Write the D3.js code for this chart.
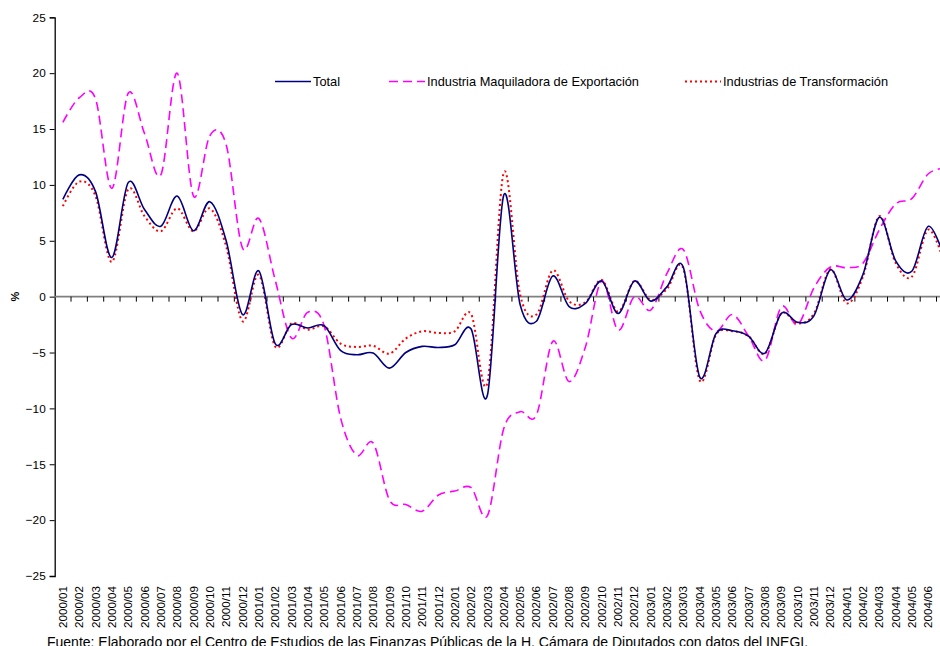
<!DOCTYPE html>
<html>
<head>
<meta charset="utf-8">
<script src="https://cdn.jsdelivr.net/npm/d3@7"></script>
<style>
  body { margin: 0; background: #fff; }
  svg text { font-family: "Liberation Sans", Arial, sans-serif; fill: #000; }
</style>
</head>
<body>
<svg width="940" height="646"></svg>
<script>
// **** Data ****

var months = ["2000/01","2000/02","2000/03","2000/04","2000/05","2000/06","2000/07","2000/08","2000/09","2000/10","2000/11","2000/12",
    "2001/01","2001/02","2001/03","2001/04","2001/05","2001/06","2001/07","2001/08","2001/09","2001/10","2001/11","2001/12",
    "2002/01","2002/02","2002/03","2002/04","2002/05","2002/06","2002/07","2002/08","2002/09","2002/10","2002/11","2002/12",
    "2003/01","2003/02","2003/03","2003/04","2003/05","2003/06","2003/07","2003/08","2003/09","2003/10","2003/11","2003/12",
    "2004/01","2004/02","2004/03","2004/04","2004/05","2004/06","2004/07"];

var total = [8.7, 10.9, 9.4, 3.5, 10.2, 7.8, 6.3, 9.0, 5.9, 8.5, 5.0, -1.6,
    2.3, -4.2, -2.5, -2.8, -2.6, -4.8, -5.2, -5.05, -6.4, -5.0, -4.45, -4.55,
    -4.3, -2.9, -8.8, 9.1, -0.7, -2.2, 1.85, -0.9, -0.6, 1.4, -1.5, 1.4,
    -0.4, 0.9, 2.6, -7.2, -3.3, -3.05, -3.55, -5.05, -1.5, -2.3, -1.7, 2.4,
    -0.3, 2.0, 7.1, 3.2, 2.3, 6.3, 3.4];

var maquiladora = [15.6, 17.8, 17.7, 9.7, 18.2, 14.6, 10.9, 20.0, 9.0, 14.4, 13.6, 4.35,
    7.0, 1.5, -3.7, -1.4, -2.6, -10.8, -14.2, -13.1, -18.2, -18.6, -19.2, -17.75,
    -17.4, -17.1, -19.6, -11.8, -10.3, -10.6, -4.0, -7.6, -4.5, 1.4, -3.0, 0.0,
    -1.2, 2.1, 4.2, -1.2, -3.1, -1.6, -3.55, -5.7, -0.9, -2.5, 0.8, 2.65,
    2.6, 3.0, 6.0, 8.3, 8.8, 11.0, 11.5];

var transformacion = [8.1, 10.3, 9.0, 3.1, 9.6, 7.2, 5.85, 7.9, 5.85, 7.9, 4.5, -2.2,
    1.95, -4.45, -2.4, -2.95, -2.65, -4.2, -4.5, -4.4, -5.1, -3.75, -3.1, -3.25,
    -3.1, -1.55, -7.7, 11.1, 0.2, -1.6, 2.35, -0.4, -0.5, 1.5, -1.35, 1.4,
    -0.3, 0.7, 2.5, -7.5, -3.4, -3.1, -3.55, -5.1, -1.5, -2.4, -1.5, 2.45,
    -0.6, 1.8, 7.2, 3.0, 1.8, 6.0, 2.9];

var yTicks = [25, 20, 15, 10, 5, 0, -5, -10, -15, -20, -25];

var seriesNames = ["Total", "Industria Maquiladora de Exportación", "Industrias de Transformación"];

// **** Scales ****

var svg = d3.select("svg");

var xScale = d3.scaleBand()
    .domain(months).range([54.7, 54.7 + 55 * 16.33]).padding(0);

var yScale = d3.scaleLinear()
    .domain([-25, 25]).range([576, 17.3]);

function xPos(i) {
    return xScale(months[i]) + xScale.bandwidth() / 2;
}

// **** Axes ****

// vertical axis
var yAxis = svg.append("g")
    .attr("transform", "translate(54.7,0)")
    .call(d3.axisLeft(yScale).tickValues(yTicks).tickSize(5).tickPadding(4).tickFormat(d3.format("d")));
yAxis.select(".domain").attr("stroke", "#000").attr("stroke-width", 1.3);
yAxis.selectAll(".tick line").attr("stroke", "#000");
yAxis.selectAll(".tick text").attr("font-size", "11.8px")
    .attr("font-family", "Liberation Sans, Arial, sans-serif");

// horizontal line at zero with ticks between categories
svg.append("line")
    .attr("x1", 54.7).attr("x2", 960)
    .attr("y1", yScale(0)).attr("y2", yScale(0))
    .attr("stroke", "#808080").attr("stroke-width", 1.6);

svg.selectAll("line.xtick")
    .data(months)
    .enter()
    .append("line")
    .attr("class", "xtick")
    .attr("x1", function(d) { return xScale(d) + xScale.bandwidth(); })
    .attr("x2", function(d) { return xScale(d) + xScale.bandwidth(); })
    .attr("y1", yScale(0))
    .attr("y2", yScale(0) + 5)
    .attr("stroke", "#000")
    .attr("stroke-width", 1);

// month labels at the bottom
svg.selectAll("text.month")
    .data(months)
    .enter()
    .append("text")
    .attr("class", "month")
    .attr("transform", function(d) {
        return "translate(" + (xScale(d) + xScale.bandwidth() / 2) + ",586) rotate(-90)";
    })
    .attr("text-anchor", "end")
    .attr("dy", "0.35em")
    .attr("font-size", "11.6px")
    .text(function(d) { return d; });

// axis label
svg.append("text")
    .attr("transform", "translate(15," + yScale(0) + ") rotate(-90)")
    .attr("text-anchor", "middle")
    .attr("dy", "0.35em")
    .attr("font-size", "11px")
    .attr("font-weight", "bold")
    .text("%");

// **** Lines ****

var line = d3.line()
    .x(function(d, i) { return xPos(i); })
    .y(function(d) { return yScale(d); })
    .curve(d3.curveCardinal.tension(0));

svg.append("path")
    .datum(maquiladora)
    .attr("fill", "none")
    .attr("stroke", "#ff00ff")
    .attr("stroke-width", 1.6)
    .attr("stroke-dasharray", "9,5")
    .attr("d", line);

svg.append("path")
    .datum(transformacion)
    .attr("fill", "none")
    .attr("stroke", "#ff0000")
    .attr("stroke-width", 2)
    .attr("stroke-dasharray", "2,3")
    .attr("d", line);

svg.append("path")
    .datum(total)
    .attr("fill", "none")
    .attr("stroke", "#000080")
    .attr("stroke-width", 1.6)
    .attr("d", line);

// **** Legend ****

var legendItems = [
    { x: 275, color: "#000080", dash: null, width: 1.6 },
    { x: 389, color: "#ff00ff", dash: "9,5", width: 1.6 },
    { x: 685, color: "#ff0000", dash: "2,3", width: 2 }
];

var legend = svg.selectAll("g.legend")
    .data(legendItems)
    .enter()
    .append("g")
    .attr("class", "legend")
    .attr("transform", function(d) { return "translate(" + d.x + ",81.5)"; });

legend.append("line")
    .attr("x1", 0).attr("x2", 36)
    .attr("y1", 0).attr("y2", 0)
    .attr("stroke", function(d) { return d.color; })
    .attr("stroke-width", function(d) { return d.width; })
    .attr("stroke-dasharray", function(d) { return d.dash; });

legend.append("text")
    .attr("x", 38)
    .attr("dy", "0.35em")
    .attr("font-size", "12.8px")
    .text(function(d, i) { return seriesNames[i]; });

// source note
svg.append("text")
    .attr("x", 47)
    .attr("y", 647)
    .attr("font-size", "14px")
    .text("Fuente: Elaborado por el Centro de Estudios de las Finanzas Públicas de la H. Cámara de Diputados con datos del INEGI.");
</script>
</body>
</html>
